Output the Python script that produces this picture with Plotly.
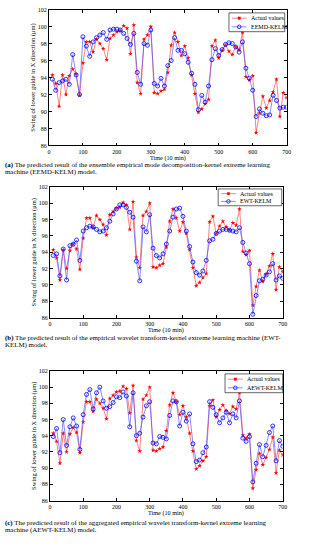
import plotly.graph_objects as go

time = list(range(10, 701, 10))

actual = [94.3, 93.3, 90.6, 94.3, 92.0, 94.2, 95.0, 94.4, 91.9, 95.7,
          98.2, 98.2, 97.0, 98.5, 98.0, 97.4, 96.1, 98.6, 99.0, 99.4,
          99.5, 100.1, 99.8, 96.8, 100.2, 93.4, 92.1, 98.5, 99.0, 100.0,
          92.2, 92.1, 92.4, 92.6, 94.6, 97.8, 99.3, 98.2, 96.6, 97.7,
          96.3, 94.3, 92.1, 89.9, 90.3, 90.9, 91.4, 97.7, 98.4, 96.3,
          97.2, 97.8, 97.1, 96.7, 97.6, 97.3, 99.3, 94.1, 93.7, 94.2,
          87.5, 89.8, 91.8, 90.4, 91.3, 92.3, 93.8, 89.4, 92.2, 91.6]

eemd_kelm = [93.8, 92.5, 93.4, 93.6, 93.8, 93.2, 96.7, 94.3, 92.0, 98.8,
             97.7, 96.5, 98.2, 98.7, 99.0, 99.3, 98.5, 99.6, 99.7, 99.7,
             99.6, 99.2, 98.6, 97.9, 99.2, 94.6, 93.2, 98.0, 97.8, 99.6,
             93.3, 93.0, 93.9, 93.0, 95.4, 96.0, 98.7, 97.2, 97.2, 96.8,
             95.8, 94.5, 93.2, 90.2, 91.9, 91.1, 93.0, 96.1, 97.4, 96.6,
             97.3, 97.9, 98.1, 98.0, 97.6, 97.0, 98.2, 95.1, 93.9, 92.5,
             89.4, 90.3, 89.8, 89.5, 89.6, 91.9, 91.3, 90.4, 90.5, 90.5]

ewt_kelm = [93.6, 93.8, 91.1, 94.4, 90.6, 94.8, 95.0, 95.5, 93.0, 96.6,
            97.0, 97.2, 97.1, 96.8, 96.5, 96.6, 97.0, 97.8, 98.7, 99.3,
            99.8, 99.8, 99.5, 98.9, 98.3, 92.9, 90.5, 97.1, 96.5, 98.6,
            94.5, 93.6, 93.3, 93.8, 95.0, 96.6, 98.3, 99.3, 99.4, 98.4,
            96.6, 94.7, 92.8, 91.5, 91.2, 91.7, 93.0, 95.4, 95.6, 96.3,
            96.6, 96.8, 96.8, 96.7, 96.6, 96.5, 97.0, 95.2, 93.9, 92.6,
            86.4, 88.7, 90.5, 90.7, 91.2, 91.6, 92.6, 90.6, 91.1, 90.8]

aewt_kelm = [93.9, 94.9, 91.9, 96.0, 92.8, 95.1, 96.2, 95.2, 92.3, 96.6,
             99.1, 99.7, 97.3, 99.3, 100.0, 98.3, 97.4, 97.6, 98.1, 98.8,
             98.7, 99.4, 98.9, 95.1, 99.3, 94.0, 94.3, 96.3, 97.7, 98.2,
             93.1, 93.0, 93.9, 93.8, 93.6, 96.5, 98.3, 98.2, 95.2, 96.9,
             95.8, 96.7, 93.0, 90.8, 91.0, 91.9, 92.6, 98.2, 97.5, 96.6,
             95.6, 96.2, 96.9, 95.6, 96.7, 96.2, 98.3, 93.7, 93.3, 93.9,
             88.3, 90.6, 92.9, 91.4, 92.8, 94.4, 95.2, 90.9, 93.4, 92.7]

model_names = ["EEMD-KELM", "EWT-KELM", "AEWT-KELM"]
model_preds = [eemd_kelm, ewt_kelm, aewt_kelm]
legend_actual = "Actual values"
x_title = "Time (10 min)"
y_title = "Swing of lower guide in X direction (μm)"

x_ticks = list(range(0, 701, 100))
y_ticks = list(range(86, 103, 2))

captions = [
    ["<b>(a)</b> The predicted result of the ensemble empirical mode decomposition-kernel extreme learning",
     "machine (EEMD-KELM) model."],
    ["<b>(b)</b> The predicted result of the empirical wavelet transform-kernel extreme learning machine (EWT-",
     "KELM) model."],
    ["<b>(c)</b> The predicted result of the aggregated empirical wavelet transform-kernel extreme learning",
     "machine (AEWT-KELM) model."],
]

W, H = 321, 550
FONT = "Liberation Serif"
RED_LINE = "rgba(255,70,70,0.75)"
BLUE_LINE = "rgba(80,80,255,0.75)"

# panel geometry in pixels: (left, right, top, bottom)
panels = [(48, 291, 6.7, 144), (49, 287, 186, 318), (49, 287, 372, 503)]
time_y = [156.5, 330.5, 515.5]
cap_y = [(163.8, 171.3), (338.5, 346.0), (525.5, 533.0)]
# legend boxes in pixels: (left, right, top, bottom)
legends = [(232, 289, 10, 29), (221, 286, 188, 205), (228, 287, 375, 394)]


def px(xp):
    return xp / W


def py(yp):
    return 1 - yp / H


fig = go.Figure()
layout = dict(width=W, height=H, margin=dict(l=0, r=0, t=0, b=0),
              paper_bgcolor="white", plot_bgcolor="white", showlegend=False,
              font=dict(family=FONT, size=6, color="black"),
              annotations=[], shapes=[])

for i, (name, pred) in enumerate(zip(model_names, model_preds)):
    sfx = "" if i == 0 else str(i + 1)
    fig.add_trace(go.Scatter(x=time, y=actual, mode="lines+markers", name=legend_actual,
                             line=dict(color=RED_LINE, width=0.9),
                             marker=dict(symbol="star", size=3.5, color="red"),
                             xaxis="x" + sfx, yaxis="y" + sfx))
    fig.add_trace(go.Scatter(x=time, y=pred, mode="lines+markers", name=name,
                             line=dict(color=BLUE_LINE, width=0.9),
                             marker=dict(symbol="circle-open", size=4, color="blue", line=dict(width=0.8)),
                             xaxis="x" + sfx, yaxis="y" + sfx))
    l, r, t, b = panels[i]
    common = dict(showline=True, linecolor="black", linewidth=0.8, mirror="ticks",
                  ticks="inside", ticklen=3, tickwidth=0.6, tickcolor="black",
                  showgrid=False, zeroline=False, tickfont=dict(family=FONT, size=6))
    layout["xaxis" + sfx] = dict(domain=[px(l), px(r)], range=[0, 700], tickvals=x_ticks,
                                 anchor="y" + sfx, **common)
    layout["yaxis" + sfx] = dict(domain=[py(b), py(t)], range=[86, 102], tickvals=y_ticks,
                                 anchor="x" + sfx,
                                 title=dict(text=y_title, font=dict(family=FONT, size=6.5), standoff=1),
                                 **common)
    layout["annotations"].append(dict(text=x_title, xref="paper", yref="paper",
                                      x=px((l + r) / 2), y=py(time_y[i]), xanchor="center", yanchor="middle",
                                      showarrow=False, font=dict(family=FONT, size=6.2, color="black")))

    # legend box (drawn manually to match the compact MATLAB legend)
    ll, lr, lt, lb = legends[i]
    layout["shapes"].append(dict(type="rect", xref="paper", yref="paper",
                                 x0=px(ll), x1=px(lr), y0=py(lb), y1=py(lt),
                                 line=dict(color="black", width=0.6), fillcolor="white", layer="above"))
    rows = [(legend_actual, RED_LINE, "red", True), (name, BLUE_LINE, "blue", False)]
    hgt = lb - lt
    for k, (txt, lc, mc, is_star) in enumerate(rows):
        yc = lt + hgt * (0.28 + 0.46 * k)
        x0, x1 = ll + 3, ll + 18
        xm = (x0 + x1) / 2
        layout["shapes"].append(dict(type="line", xref="paper", yref="paper",
                                     x0=px(x0), x1=px(x1), y0=py(yc), y1=py(yc),
                                     line=dict(color=lc, width=0.9), layer="above"))
        if is_star:
            layout["shapes"].append(dict(type="rect", xref="paper", yref="paper",
                                         x0=px(xm - 1.2), x1=px(xm + 1.2), y0=py(yc + 1.2), y1=py(yc - 1.2),
                                         line=dict(color=mc, width=0.5), fillcolor=mc, layer="above"))
        else:
            layout["shapes"].append(dict(type="circle", xref="paper", yref="paper",
                                         x0=px(xm - 1.8), x1=px(xm + 1.8), y0=py(yc + 1.8), y1=py(yc - 1.8),
                                         line=dict(color=mc, width=0.8), layer="above"))
        layout["annotations"].append(dict(text=txt, xref="paper", yref="paper",
                                          x=px(x1 + 2), y=py(yc), xanchor="left", yanchor="middle",
                                          showarrow=False, font=dict(family=FONT, size=6, color="black")))

    for j, txt in enumerate(captions[i]):
        layout["annotations"].append(dict(text=txt, xref="paper", yref="paper",
                                          x=px(1), y=py(cap_y[i][j]),
                                          xanchor="left", yanchor="middle", showarrow=False,
                                          font=dict(family=FONT, size=6.9, color="black")))

fig.update_layout(**layout)
fig.write_html("out.html", config={"displayModeBar": False},
               post_script="document.body.style.margin='0';document.body.style.overflow='hidden';")
